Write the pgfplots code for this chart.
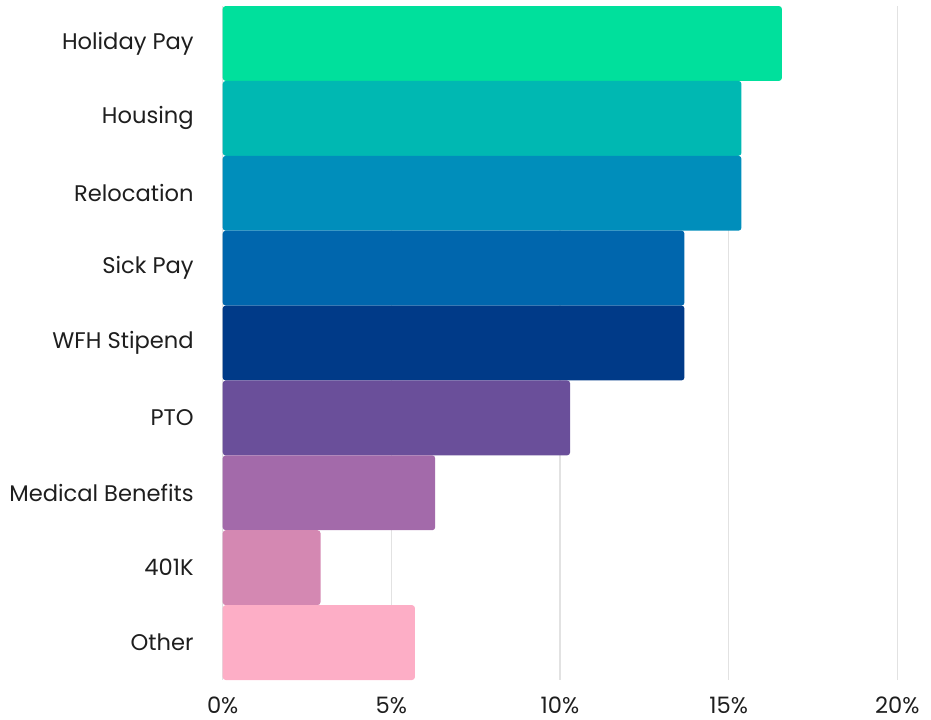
\documentclass[border=0pt]{standalone}
\usepackage{pgfplots}
\pgfplotsset{compat=1.18}
\usepackage{fontspec}
\setmainfont{Poppins}
\definecolor{c1}{HTML}{00E09C}
\definecolor{c2}{HTML}{00B8B2}
\definecolor{c3}{HTML}{008EBB}
\definecolor{c4}{HTML}{0066AD}
\definecolor{c5}{HTML}{003A88}
\definecolor{c6}{HTML}{6A4F9A}
\definecolor{c7}{HTML}{A36AAA}
\definecolor{c8}{HTML}{D488B2}
\definecolor{c9}{HTML}{FDAEC6}
\definecolor{txt}{HTML}{1E1E1E}
\definecolor{gridc}{HTML}{E2E2E2}
\begin{document}
\begin{tikzpicture}
\path[use as bounding box] (-111.35pt,-19.5pt) rectangle (354.15pt,340pt);
\begin{axis}[
  at={(0pt,0pt)}, anchor=south west,
  scale only axis,
  width=337.3pt, height=337pt,
  xmin=0, xmax=20,
  ymin=-0.5, ymax=8.5,
  y dir=reverse,
  xbar, bar width=1,
  axis line style={draw=none},
  major tick length=0pt,
  xtick={0,5,10,15,20},
  xticklabels={0\%,5\%,10\%,15\%,20\%},
  xmajorgrids=true,
  grid style={gridc, line width=0.7pt},
  ytick={0,...,8},
  yticklabels={Holiday Pay,Housing,Relocation,Sick Pay,WFH Stipend,PTO,Medical Benefits,401K,Other},
  tick label style={font=\fontsize{11.3pt}{13pt}\selectfont, text=txt},
  /pgf/number format/assume math mode=true,
  xticklabel style={anchor=base, inner sep=0pt, text depth=0pt, yshift=-16.8pt},
  yticklabel style={xshift=-11pt},
  every axis plot/.append style={draw=none, bar shift=0pt, rounded corners=1.5pt},
  clip=false,
]
\addplot[fill=c1] coordinates {(16.58,0)};
\addplot[fill=c2] coordinates {(15.38,1)};
\addplot[fill=c3] coordinates {(15.38,2)};
\addplot[fill=c4] coordinates {(13.69,3)};
\addplot[fill=c5] coordinates {(13.69,4)};
\addplot[fill=c6] coordinates {(10.3,5)};
\addplot[fill=c7] coordinates {(6.3,6)};
\addplot[fill=c8] coordinates {(2.9,7)};
\addplot[fill=c9] coordinates {(5.7,8)};
\end{axis}
\end{tikzpicture}
\end{document}
